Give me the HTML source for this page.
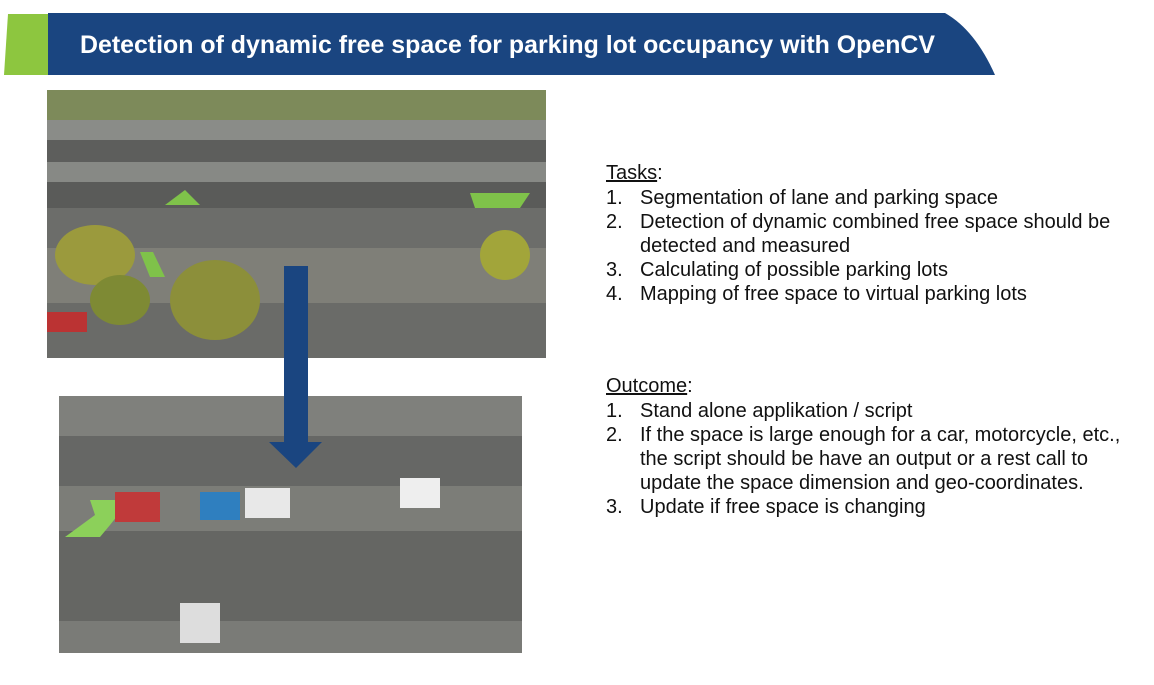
<!DOCTYPE html>
<html><head><meta charset="utf-8"><style>
body{margin:0;width:1154px;height:685px;background:#fff;position:relative;overflow:hidden;font-family:"Liberation Sans",Arial,sans-serif}
.t{position:absolute;font-size:20px;color:#111;line-height:24px;white-space:nowrap}
.h{position:absolute;font-size:20px;color:#111}
ol{margin:0;padding:0;list-style:none}
li{position:relative;padding-left:34px}
li span{position:absolute;left:0}
</style></head><body>
<svg width="1154" height="685" style="position:absolute;left:0;top:0">
  <polygon points="8,14 48,14 48,75 4,75" fill="#8dc63f"/>
  <path d="M48,13 L945,13 Q975,30 995,75 L48,75 Z" fill="#1a4580"/>
  <text x="80" y="53" fill="#fff" font-size="25" font-weight="bold" textLength="855" lengthAdjust="spacingAndGlyphs" font-family="Liberation Sans, Arial, sans-serif">Detection of dynamic free space for parking lot occupancy with OpenCV</text>
  <g>
    <rect x="47" y="90" width="499" height="268" fill="#6e6f6b"/>
    <rect x="47" y="90" width="499" height="30" fill="#7d8a5a"/>
    <rect x="47" y="120" width="499" height="20" fill="#8a8c88"/>
    <rect x="47" y="140" width="499" height="22" fill="#5d5e5c"/>
    <rect x="47" y="162" width="499" height="20" fill="#878985"/>
    <rect x="47" y="182" width="499" height="26" fill="#5a5b59"/>
    <rect x="47" y="208" width="499" height="40" fill="#6c6d6a"/>
    <rect x="47" y="248" width="499" height="55" fill="#7f7f78"/>
    <rect x="47" y="303" width="499" height="55" fill="#6a6b68"/>
    <ellipse cx="95" cy="255" rx="40" ry="30" fill="#9b9a3d"/>
    <ellipse cx="215" cy="300" rx="45" ry="40" fill="#8c8f3a"/>
    <ellipse cx="505" cy="255" rx="25" ry="25" fill="#a2a53a"/>
    <ellipse cx="120" cy="300" rx="30" ry="25" fill="#7e8a34"/>
    <rect x="47" y="312" width="40" height="20" fill="#b33"/>
    <polygon points="165,205 185,190 200,205" fill="#7fc24a"/>
    <polygon points="470,193 530,193 520,208 475,208" fill="#7fc24a"/>
    <polygon points="140,252 153,252 165,277 150,277" fill="#7fc24a"/>
  </g>
  <g>
    <rect x="59" y="396" width="463" height="257" fill="#6d6e6c"/>
    <rect x="59" y="396" width="463" height="40" fill="#7f807c"/>
    <rect x="59" y="436" width="463" height="50" fill="#666765"/>
    <rect x="59" y="486" width="463" height="45" fill="#7c7d78"/>
    <rect x="59" y="531" width="463" height="90" fill="#656663"/>
    <rect x="59" y="621" width="463" height="32" fill="#7a7b77"/>
    <polygon points="65,537 95,515 90,500 130,500 110,525 100,537" fill="#8cd05a"/>
    <rect x="115" y="492" width="45" height="30" fill="#c03a3a"/>
    <rect x="200" y="492" width="40" height="28" fill="#2f7fbf"/>
    <rect x="245" y="488" width="45" height="30" fill="#e8e8e8"/>
    <rect x="400" y="478" width="40" height="30" fill="#eeeeee"/>
    <rect x="180" y="603" width="40" height="40" fill="#ddd"/>
  </g>
  <g>
    <rect x="284" y="266" width="24" height="176" fill="#1a4580"/>
    <polygon points="269,442 322,442 296,468" fill="#1a4580"/>
  </g>
</svg>
<div class="h" style="left:606px;top:162px"><u>Tasks</u>:</div>
<div class="t" style="left:606px;top:186px"><ol>
<li><span>1.</span>Segmentation of lane and parking space</li>
<li><span>2.</span>Detection of dynamic combined free space should be<br>detected and measured</li>
<li><span>3.</span>Calculating of possible parking lots</li>
<li><span>4.</span>Mapping of free space to virtual parking lots</li></ol></div>
<div class="h" style="left:606px;top:375px"><u>Outcome</u>:</div>
<div class="t" style="left:606px;top:399px"><ol>
<li><span>1.</span>Stand alone applikation / script</li>
<li><span>2.</span>If the space is large enough for a car, motorcycle, etc.,<br>the script should be have an output or a rest call to<br>update the space dimension and geo-coordinates.</li>
<li><span>3.</span>Update if free space is changing</li></ol></div>
</body></html>
